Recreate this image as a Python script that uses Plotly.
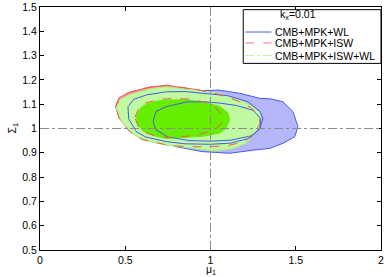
import plotly.graph_objects as go

# ---- data: contour boundaries (mu_1, Sigma_1) ----
wl_2s_fill_x = [0.55, 0.62, 0.75, 0.90, 1.05, 1.17, 1.29, 1.35, 1.425, 1.484, 1.513,
                1.494, 1.425, 1.347, 1.25, 1.113, 0.95, 0.80, 0.65, 0.57, 0.55]
wl_2s_fill_y = [1.05, 1.11, 1.145, 1.155, 1.158, 1.145, 1.124, 1.122, 1.110, 1.069, 1.007,
                0.966, 0.939, 0.918, 0.911, 0.898, 0.905, 0.925, 0.96, 1.0, 1.05]

isw_2s_x = [0.443, 0.465, 0.52, 0.64, 0.74, 0.82, 0.92, 1.013, 1.10, 1.17, 1.24, 1.285, 1.29,
            1.26, 1.20, 1.10, 1.0, 0.90, 0.80, 0.74, 0.65, 0.60, 0.525, 0.465, 0.443]
isw_2s_y = [1.09, 1.127, 1.148, 1.17, 1.178, 1.17, 1.16, 1.147, 1.13, 1.11, 1.085, 1.05, 1.02,
            0.985, 0.945, 0.93, 0.925, 0.925, 0.928, 0.933, 0.946, 0.955, 0.988, 1.042, 1.09]

iswwl_2s_x = [0.448, 0.47, 0.526, 0.643, 0.741, 0.82, 0.92, 1.013, 1.10, 1.17, 1.24, 1.29, 1.30,
              1.27, 1.21, 1.12, 1.015, 0.90, 0.82, 0.741, 0.65, 0.604, 0.526, 0.467, 0.448]
iswwl_2s_y = [1.085, 1.12, 1.14, 1.163, 1.172, 1.165, 1.157, 1.149, 1.135, 1.118, 1.095, 1.065, 1.023,
              0.987, 0.94, 0.915, 0.908, 0.918, 0.926, 0.932, 0.945, 0.953, 0.987, 1.042, 1.085]

iswwl_1s_x = [0.565, 0.59, 0.624, 0.683, 0.741, 0.859, 0.96, 1.054, 1.10, 1.113, 1.09, 1.054,
              0.95, 0.82, 0.741, 0.66, 0.604, 0.57, 0.565]
iswwl_1s_y = [1.05, 1.085, 1.10, 1.112, 1.117, 1.118, 1.108, 1.091, 1.065, 1.036, 1.0, 0.981,
              0.968, 0.962, 0.959, 0.972, 0.99, 1.02, 1.05]

isw_1s_x = [0.556, 0.58, 0.62, 0.68, 0.741, 0.80, 0.90, 0.98, 1.04, 1.07, 1.064, 1.025,
            0.925, 0.79, 0.70, 0.62, 0.575, 0.556]
isw_1s_y = [1.045, 1.085, 1.105, 1.117, 1.122, 1.124, 1.12, 1.105, 1.08, 1.05, 1.02, 0.995,
            0.974, 0.962, 0.965, 0.982, 1.01, 1.045]

wl_1s_x = [0.663, 0.68, 0.741, 0.859, 0.96, 1.05, 1.15, 1.25, 1.295, 1.29, 1.24, 1.12,
           1.0, 0.88, 0.75, 0.68, 0.663]
wl_1s_y = [1.028, 1.07, 1.09, 1.109, 1.11, 1.105, 1.095, 1.075, 1.04, 1.0, 0.97, 0.952,
           0.948, 0.95, 0.965, 0.995, 1.028]

wl_2s_x = [0.516, 0.55, 0.624, 0.741, 0.85, 0.985, 1.10, 1.22, 1.29, 1.308, 1.29, 1.23,
           1.12, 1.0, 0.85, 0.741, 0.62, 0.565, 0.52, 0.516]
wl_2s_y = [1.09, 1.12, 1.138, 1.151, 1.152, 1.144, 1.135, 1.11, 1.07, 1.042, 1.0, 0.96,
           0.94, 0.935, 0.937, 0.946, 0.965, 0.987, 1.04, 1.09]

ref_mu = 1.0
ref_sigma = 1.0

x_ticks = [0, 0.5, 1, 1.5, 2]
y_ticks = [0.5, 0.6, 0.7, 0.8, 0.9, 1.0, 1.1, 1.2, 1.3, 1.4, 1.5]

legend_title = "k<sub>x</sub>=0.01"
legend_names = ["CMB+MPK+WL", "CMB+MPK+ISW", "CMB+MPK+ISW+WL"]

# ---- styles ----
BLUE = "rgb(70,90,240)"
LAVENDER = "rgb(182,182,250)"
PINK = "rgb(255,140,160)"
RED = "rgb(235,95,70)"
LGREEN = "rgb(192,250,160)"
BGREEN = "rgb(102,238,0)"
FONT = "Liberation Sans, Arial, sans-serif"
FS = 10.5

fig = go.Figure()

def fill(x, y, color, line_color, width=1, dash="solid"):
    fig.add_trace(go.Scatter(x=x, y=y, mode="lines", fill="toself", fillcolor=color,
                             line=dict(color=line_color, width=width, dash=dash),
                             showlegend=False, hoverinfo="skip"))

def line(x, y, color, width=1, dash="solid"):
    fig.add_trace(go.Scatter(x=x, y=y, mode="lines",
                             line=dict(color=color, width=width, dash=dash),
                             showlegend=False, hoverinfo="skip"))

fill(wl_2s_fill_x, wl_2s_fill_y, LAVENDER, BLUE, 1)
fill(isw_2s_x, isw_2s_y, PINK, "rgb(255,80,110)", 1)
fill(iswwl_2s_x, iswwl_2s_y, LGREEN, "rgb(170,240,130)", 1)
fill(iswwl_1s_x, iswwl_1s_y, BGREEN, BGREEN, 1)
line(wl_2s_x, wl_2s_y, BLUE, 1)
line(wl_1s_x, wl_1s_y, BLUE, 1)
line(isw_2s_x, isw_2s_y, RED, 1, "dash")
line(isw_1s_x, isw_1s_y, RED, 1, "dash")

fig.add_vline(x=ref_mu, line=dict(color="rgb(140,140,140)", width=1, dash="dashdot"))
fig.add_hline(y=ref_sigma, line=dict(color="rgb(140,140,140)", width=1, dash="dashdot"))

# ---- legend box (manual, MATLAB style) ----
fig.add_shape(type="rect", xref="paper", yref="paper", x0=0.596, x1=1.0, y0=0.768, y1=0.989,
              line=dict(color="black", width=1), fillcolor="white", layer="above")
fig.add_annotation(xref="paper", yref="paper", x=0.758, y=0.968, text=legend_title,
                   showarrow=False, xanchor="center", yanchor="middle",
                   font=dict(family=FONT, size=FS, color="black"))
leg_y = [0.897, 0.852, 0.800]
leg_style = [(BLUE, "solid"), ("rgb(255,120,120)", "dash"), ("rgb(180,250,150)", "dashdot")]
for name, yy, (c, d) in zip(legend_names, leg_y, leg_style):
    fig.add_shape(type="line", xref="paper", yref="paper", x0=0.602, x1=0.679, y0=yy, y1=yy,
                  line=dict(color=c, width=1, dash=d), layer="above")
    fig.add_annotation(xref="paper", yref="paper", x=0.683, y=yy, text=name,
                       showarrow=False, xanchor="left", yanchor="middle",
                       font=dict(family=FONT, size=FS, color="black"))

# axis titles as annotations (fixed positions)
fig.add_annotation(xref="paper", yref="paper", x=0.5, y=0, yshift=-20, text="\u03bc<sub>1</sub>",
                   showarrow=False, xanchor="center", yanchor="middle",
                   font=dict(family=FONT, size=FS, color="black"))
fig.add_annotation(xref="paper", yref="paper", x=0, y=0.5, xshift=-28, text="\u03a3<sub>1</sub>",
                   showarrow=False, textangle=-90, xanchor="center", yanchor="middle",
                   font=dict(family=FONT, size=FS, color="black"))

axis_common = dict(showgrid=False, zeroline=False, showline=True, linecolor="black",
                   linewidth=1, mirror="ticks", ticks="inside", ticklen=4, tickcolor="black",
                   automargin=False,
                   tickfont=dict(family=FONT, size=FS, color="black"))

fig.update_layout(
    width=388, height=277,
    margin=dict(l=40, r=7, t=7, b=27, autoexpand=False),
    paper_bgcolor="white", plot_bgcolor="white",
    showlegend=False,
    xaxis=dict(range=[0, 2], tickvals=x_ticks, ticktext=[f"{v:g}" for v in x_ticks],
               **axis_common),
    yaxis=dict(range=[0.5, 1.5], tickvals=y_ticks, ticktext=[f"{v:g}" for v in y_ticks],
               **axis_common),
)

fig.write_html("out.html", config={"displayModeBar": False},
               post_script="document.body.style.margin='0';document.body.style.overflow='hidden';")
